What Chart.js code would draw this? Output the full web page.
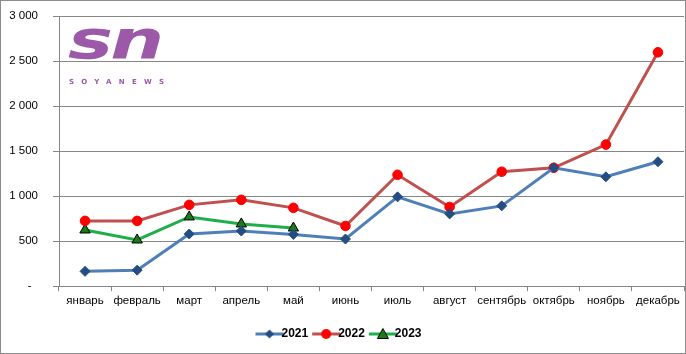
<!DOCTYPE html>
<html><head><meta charset="utf-8">
<script src="https://cdn.jsdelivr.net/npm/chart.js@4/dist/chart.umd.min.js"></script>
<style>
html,body{margin:0;padding:0;background:#fff;}
#wrap{position:relative;width:686px;height:354px;box-sizing:border-box;border:1px solid #8c8c8c;overflow:hidden;}
canvas{position:absolute;left:0;top:0;}
#logo{position:absolute;left:67px;top:12px;font-family:"DejaVu Sans";font-style:italic;font-weight:bold;font-size:54px;color:#9c59a8;letter-spacing:-2px;line-height:54px;transform:scaleX(1.4);transform-origin:left top;}
#logo2{position:absolute;left:68px;top:77px;font-family:"DejaVu Sans";font-weight:bold;font-size:7px;color:#9c59a8;letter-spacing:7.3px;}
</style></head>
<body>
<div id="wrap"><canvas id="c" width="684" height="352"></canvas>
<div id="logo">sn</div><div id="logo2">SOYANEWS</div></div>
<script>
const categories=['январь','февраль','март','апрель','май','июнь','июль','август','сентябрь','октябрь','ноябрь','декабрь'];
const y2021=[165,178,580,613,575,524,992,803,892,1315,1215,1382];
const y2022=[725,725,903,959,870,669,1237,880,1271,1315,1572,2597];
const y2023=[624,513,769,691,646,null,null,null,null,null,null,null];
const seriesNames=['2021','2022','2023'];
const yTicks=[0,500,1000,1500,2000,2500,3000];

function legendIcon(style,fill,stroke){
  const c=document.createElement('canvas');c.width=30;c.height=12;
  const g=c.getContext('2d');
  g.strokeStyle=stroke;g.lineWidth=3;g.beginPath();g.moveTo(1,6);g.lineTo(29,6);g.stroke();
  g.fillStyle=fill;g.beginPath();
  if(style==='d'){g.moveTo(15,1.5);g.lineTo(19.5,6);g.lineTo(15,10.5);g.lineTo(10.5,6);g.closePath();g.fill();}
  else if(style==='c'){g.arc(15,6,5,0,Math.PI*2);g.fill();}
  else {g.moveTo(15,0.5);g.lineTo(20.5,10.5);g.lineTo(9.5,10.5);g.closePath();g.fill();g.strokeStyle='#000';g.lineWidth=1;g.stroke();}
  return c;
}
const icons=[legendIcon('d','#244d82','#4f7fb8'),legendIcon('c','#ff0000','#c0504d'),legendIcon('t','#1b7a1b','#1fae4b')];

const fmt=v=>v===0?'-  ':String(v).replace(/\B(?=(\d{3})+(?!\d))/g,' ');
const font={family:'"Liberation Sans", Arial, sans-serif',size:11.5};
new Chart(document.getElementById('c'),{
  type:'line',
  data:{labels:categories,datasets:[
    {label:seriesNames[0],data:y2021,borderColor:'#4f7fb8',borderWidth:3,pointStyle:'rectRot',pointRadius:5,pointHoverRadius:5,pointBackgroundColor:'#244d82',pointBorderColor:'#244d82',pointBorderWidth:1,tension:0},
    {label:seriesNames[1],data:y2022,borderColor:'#c0504d',borderWidth:3,pointStyle:'circle',pointRadius:4.8,pointHoverRadius:4.8,pointBackgroundColor:'#ff0000',pointBorderColor:'#ff0000',pointBorderWidth:1,tension:0},
    {label:seriesNames[2],data:y2023,borderColor:'#1fae4b',borderWidth:3,pointStyle:'triangle',pointRadius:6,pointHoverRadius:6,pointBackgroundColor:'#1b7a1b',pointBorderColor:'#000',pointBorderWidth:1,tension:0}
  ]},
  options:{
    responsive:false,animation:false,
    layout:{autoPadding:false,padding:{left:0,right:1,top:15,bottom:3}},
    plugins:{
      tooltip:{enabled:false},
      legend:{position:'bottom',labels:{usePointStyle:true,font:{family:font.family,size:12,weight:'bold'},color:'#000',padding:12,
        generateLabels:ch=>ch.data.datasets.map((d,i)=>({text:d.label,pointStyle:icons[i],fillStyle:'#fff',strokeStyle:'#fff',lineWidth:0,datasetIndex:i,fontColor:'#000'}))}}
    },
    scales:{
      x:{offset:true,grid:{display:true,drawOnChartArea:false,drawTicks:true,tickLength:5,color:'#868686',offset:true},border:{display:true,color:'#868686'},
        afterFit:s=>{s.height+=5;},
        ticks:{font:font,color:'#000',padding:3,maxRotation:0,autoSkip:false}},
      y:{min:0,max:3000,afterBuildTicks:s=>{s.ticks=yTicks.map(v=>({value:v}));},
        afterFit:s=>{s.width=58;s.paddingTop=0;s.paddingBottom=0;},
        grid:{color:'#868686',tickLength:6},border:{display:true,color:'#868686'},
        ticks:{font:font,color:'#000',padding:15,callback:v=>fmt(v)}}
    }
  }
});
</script>
</body></html>
